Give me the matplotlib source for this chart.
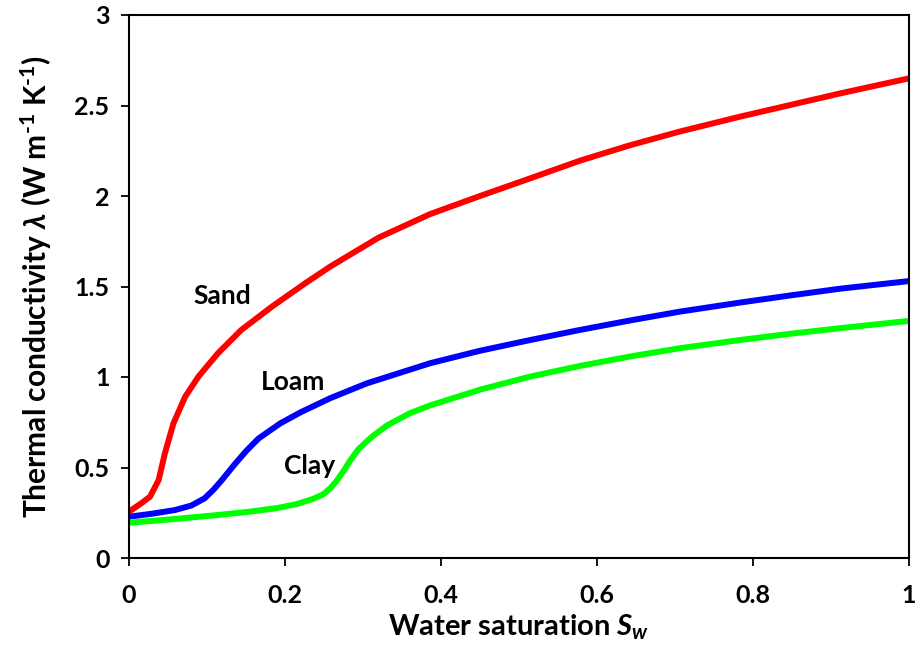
import matplotlib
matplotlib.use('Agg')
import matplotlib.pyplot as plt

# values
sand_x = [0.0, 0.015, 0.027, 0.038, 0.046, 0.057, 0.072, 0.089, 0.114, 0.144, 0.183, 0.226, 0.258,
          0.32, 0.386, 0.45, 0.514, 0.578, 0.642, 0.706, 0.783, 0.85, 0.912, 1.0]
sand_y = [0.256, 0.30, 0.339, 0.431, 0.578, 0.744, 0.891, 1.002, 1.131, 1.26, 1.388, 1.518, 1.61,
          1.77, 1.90, 2.0, 2.097, 2.195, 2.28, 2.356, 2.438, 2.505, 2.567, 2.65]

loam_x = [0.0, 0.03, 0.059, 0.08, 0.097, 0.108, 0.119, 0.134, 0.15, 0.166, 0.194, 0.22, 0.258,
          0.305, 0.386, 0.45, 0.514, 0.578, 0.642, 0.706, 0.783, 0.85, 0.912, 1.0]
loam_y = [0.228, 0.245, 0.265, 0.29, 0.33, 0.376, 0.43, 0.51, 0.59, 0.66, 0.744, 0.805, 0.883,
          0.965, 1.076, 1.145, 1.204, 1.26, 1.312, 1.361, 1.411, 1.452, 1.488, 1.53]

clay_x = [0.0, 0.03, 0.065, 0.11, 0.151, 0.19, 0.215, 0.235, 0.249, 0.258, 0.266, 0.275, 0.283, 0.294,
          0.305, 0.313, 0.331, 0.36, 0.386, 0.45, 0.514, 0.578, 0.642, 0.706, 0.783, 0.85, 0.912, 1.0]
clay_y = [0.195, 0.205, 0.218, 0.236, 0.254, 0.276, 0.298, 0.325, 0.352, 0.385, 0.425, 0.48, 0.535, 0.60,
          0.645, 0.675, 0.733, 0.80, 0.843, 0.93, 1.002, 1.061, 1.113, 1.159, 1.204, 1.24, 1.27, 1.31]

soil_labels = ['Sand', 'Loam', 'Clay']
label_pos = [(0.119, 1.45), (0.21, 0.97), (0.232, 0.51)]

plt.rcParams['font.family'] = ['Lato', 'DejaVu Sans']
plt.rcParams['font.weight'] = 'bold'
plt.rcParams['mathtext.fontset'] = 'custom'
plt.rcParams['mathtext.rm'] = 'Lato:bold'
plt.rcParams['mathtext.it'] = 'Lato:italic:bold'
plt.rcParams['mathtext.bf'] = 'Lato:bold'
plt.rcParams['mathtext.fallback'] = 'stixsans'

fig = plt.figure(figsize=(9.2, 6.53), dpi=100)
ax = fig.add_axes([129 / 920, 1 - 558 / 653, 780 / 920, 543 / 653])

lw = 4.3
for xs, ys, c in [(sand_x, sand_y, '#ff0000'), (loam_x, loam_y, '#0000ff'), (clay_x, clay_y, '#00ff00')]:
    ax.plot(xs, ys, color=c, lw=lw, solid_joinstyle='round', solid_capstyle='butt')

for name, (tx, ty) in zip(soil_labels, label_pos):
    ax.text(tx, ty, name, fontsize=19, fontweight='bold', ha='center', va='center')

ax.set_xlim(0, 1)
ax.set_ylim(0, 3)
ax.set_xticks([0, 0.2, 0.4, 0.6, 0.8, 1])
ax.set_xticklabels(['0', '0.2', '0.4', '0.6', '0.8', '1'], fontweight='bold')
ax.set_yticks([0, 0.5, 1, 1.5, 2, 2.5, 3])
ax.set_yticklabels(['0', '0.5', '1', '1.5', '2', '2.5', '3'], fontweight='bold')
ax.tick_params(direction='out', length=6, width=1.3, labelsize=18, pad=8)
ax.tick_params(axis='x', pad=13)
for sp in ax.spines.values():
    sp.set_linewidth(1.5)

ax.set_xlabel(r'Water saturation $S_w$', fontsize=21, fontweight='bold', labelpad=4)
ax.set_ylabel(r'Thermal conductivity $\lambda$ (W m$^{\text{-}1}$ K$^{\text{-}1}$)',
              fontsize=21.5, fontweight='bold', labelpad=15)

fig.savefig('out.png', dpi=100)
